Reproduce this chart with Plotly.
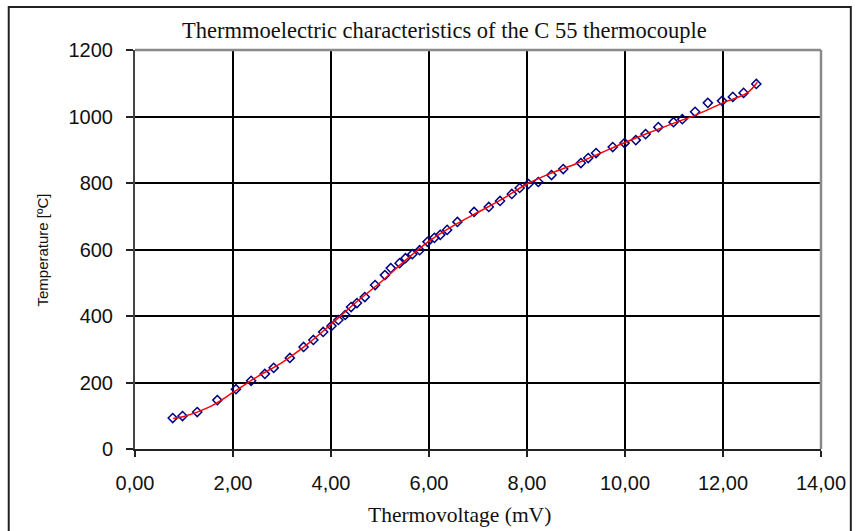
import plotly.graph_objects as go

# Measured points (thermovoltage mV, temperature °C)
V_MEAS = [0.77, 0.97, 1.27, 1.68, 2.06, 2.37, 2.65, 2.83, 3.16, 3.44, 3.64, 3.84, 4.01, 4.15,
          4.29, 4.41, 4.53, 4.69, 4.90, 5.10, 5.22, 5.40, 5.52, 5.66, 5.81, 5.97, 6.11, 6.23,
          6.37, 6.58, 6.92, 7.22, 7.45, 7.69, 7.85, 8.03, 8.23, 8.50, 8.74, 9.10, 9.25, 9.41,
          9.75, 9.99, 10.22, 10.42, 10.68, 10.99, 11.17, 11.43, 11.69, 11.98, 12.20, 12.42, 12.68]
T_MEAS = [93, 99, 111, 147, 180, 205, 226, 244, 274, 307, 328, 352, 370, 388,
          403, 427, 439, 457, 493, 523, 544, 559, 574, 586, 598, 623, 635, 644,
          659, 683, 713, 728, 746, 767, 785, 797, 803, 824, 842, 860, 875, 890,
          908, 920, 929, 947, 968, 983, 992, 1014, 1041, 1047, 1059, 1071, 1098]

# Fitted trend curve
V_FIT = [0.78, 1.0, 1.5, 2.0, 2.5, 3.0, 3.5, 4.0, 4.5, 5.0, 5.5, 6.0, 6.5, 7.0, 7.5,
         8.0, 8.5, 9.0, 9.5, 10.0, 10.5, 11.0, 11.5, 12.0, 12.5, 12.7]
T_FIT = [92, 98, 125, 170, 218, 260, 313, 375, 440, 500, 565, 625, 672, 712, 752,
         797, 830, 858, 890, 922, 952, 980, 1008, 1041, 1072, 1103]

X_TICKS = [0, 2, 4, 6, 8, 10, 12, 14]
X_TICK_LABELS = ["0,00", "2,00", "4,00", "6,00", "8,00", "10,00", "12,00", "14,00"]
Y_TICKS = [0, 200, 400, 600, 800, 1000, 1200]

fig = go.Figure()
fig.add_trace(go.Scatter(
    x=V_MEAS, y=T_MEAS, mode="markers",
    marker=dict(symbol="diamond-open", size=7, color="#000080", line=dict(width=1.5)),
    showlegend=False))
fig.add_trace(go.Scatter(
    x=V_FIT, y=T_FIT, mode="lines", line=dict(color="#ff0000", width=1.5, shape="spline"),
    showlegend=False))

L, R, T, B = 135, 825, 50, 449
W, H = 858, 531
pw, ph = R - L, B - T

def px(xp):
    return (xp - L) / pw

def py(yp):
    return (B - yp) / ph

tickfont = dict(family="Liberation Sans, Arial", size=20, color="#111111")
fig.update_layout(
    width=W, height=H,
    margin=dict(l=L, r=W - R, t=T, b=H - B),
    paper_bgcolor="white", plot_bgcolor="white",
    xaxis=dict(range=[0, 14], tickvals=X_TICKS, ticktext=X_TICK_LABELS,
               showgrid=True, gridcolor="#000000", gridwidth=1.6,
               zeroline=False, showline=True, linecolor="#222222", linewidth=2,
               ticks="outside", ticklen=6, tickwidth=1.5, tickcolor="#222222",
               tickfont=tickfont, ticklabelstandoff=9),
    yaxis=dict(range=[0, 1200], tickvals=Y_TICKS,
               showgrid=True, gridcolor="#000000", gridwidth=1.6,
               zeroline=False, showline=True, linecolor="#444444", linewidth=2,
               ticks="outside", ticklen=7, tickwidth=1.5, tickcolor="#222222",
               tickfont=tickfont, ticklabelstandoff=9),
    shapes=[
        dict(type="line", xref="paper", yref="paper", x0=0, x1=1, y0=1, y1=1,
             line=dict(color="#8a8a8a", width=2.5)),
        dict(type="line", xref="paper", yref="paper", x0=1, x1=1, y0=0, y1=1,
             line=dict(color="#8a8a8a", width=2.5)),
        dict(type="rect", xref="paper", yref="paper",
             x0=px(8), x1=px(855), y0=py(540), y1=py(7),
             line=dict(color="#222222", width=2), layer="below"),
    ],
    annotations=[
        dict(text="Thermmoelectric characteristics of the C 55 thermocouple",
             xref="paper", yref="paper", x=px(446), y=py(30),
             xanchor="center", yanchor="middle", showarrow=False,
             font=dict(family="Liberation Serif, Times New Roman", size=22.5, color="#111111")),
        dict(text="Thermovoltage (mV)",
             xref="paper", yref="paper", x=px(461), y=py(515),
             xanchor="center", yanchor="middle", showarrow=False,
             font=dict(family="Liberation Serif, Times New Roman", size=21.5, color="#111111")),
        dict(text="Temperature [ºC]", textangle=-90,
             xref="paper", yref="paper", x=px(41), y=py(250),
             xanchor="center", yanchor="middle", showarrow=False,
             font=dict(family="Liberation Sans, Arial", size=15, color="#111111")),
    ],
)

fig.write_html("out.html")
